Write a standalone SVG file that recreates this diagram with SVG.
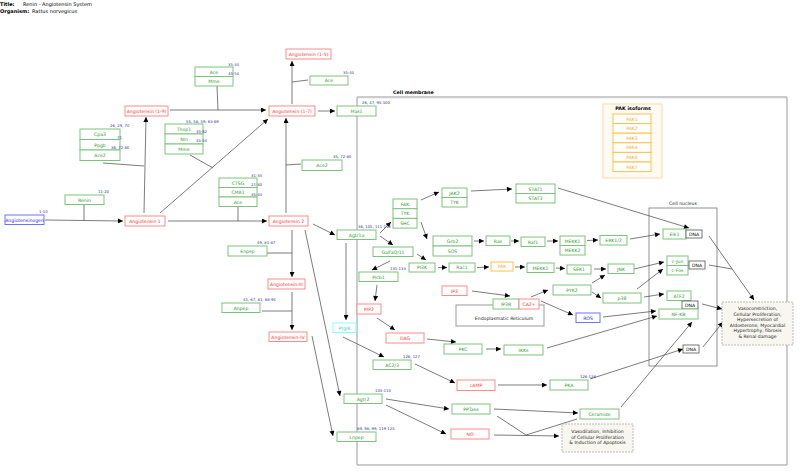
<svg xmlns="http://www.w3.org/2000/svg" width="800" height="472" viewBox="0 0 800 472">
<defs>
<marker id="ah" viewBox="0 0 10 10" refX="10" refY="5" markerWidth="7" markerHeight="5" orient="auto" markerUnits="userSpaceOnUse"><path d="M0,0 L10,5 L0,10 z" fill="#000"/></marker>
<style>
text{font-family:"DejaVu Sans","Liberation Sans",sans-serif;font-size:4.6px;text-anchor:middle}
.g rect{fill:#fff;stroke:#7cc47c;stroke-width:1}
.g text{fill:#2e9a2e}
.r rect{fill:#fff;stroke:#ff8a8a;stroke-width:1}
.r text{fill:#ff3030}
.b rect{fill:#fff;stroke:#7070ff;stroke-width:1}
.b text{fill:#2020ff}
.o rect{fill:#fff;stroke:#ffc04d;stroke-width:1}
.o text{fill:#ffaa33}
.c rect{fill:#fff;stroke:#88ffff;stroke-width:1}
.c text{fill:#33ccdd}
.k rect{fill:#fff;stroke:#555;stroke-width:0.8}
.k text{fill:#000}
.lbl{fill:#333399;font-size:3.8px;text-anchor:start}
.note rect{fill:#f7f7f0;stroke:#aaa;stroke-width:0.8;stroke-dasharray:2,1}
.note text{fill:#222;font-size:4.6px}
.hd{font-weight:bold;fill:#000;text-anchor:start;font-size:5px}
#edges line,#edges path{stroke:#444;stroke-width:0.7;fill:none}
#edges .a{marker-end:url(#ah)}
</style>
</defs>
<rect width="800" height="472" fill="#fff"/>
<g id="title">
<text class="hd" x="0" y="6">Title:</text><text x="23" y="6" style="text-anchor:start;font-size:5px">Renin - Angiotensin System</text>
<text class="hd" x="0" y="13">Organism:</text><text x="32" y="13" style="text-anchor:start;font-size:5px">Rattus norvegicus</text>
</g>
<g id="compartments">
<path d="M357,97 H787 V465 H357 Z" fill="none" stroke="#999" stroke-width="1"/>
<line x1="357" y1="97.5" x2="787" y2="97.5" stroke="#ccc" stroke-width="1.5"/>
<text class="hd" x="393" y="94" style="font-size:4.8px">Cell membrane</text>
<rect x="456" y="305" width="88" height="21" fill="#fff" stroke="#999" stroke-width="1"/>
<text x="504" y="320" fill="#222">Endoplasmatic Reticulum</text>
<rect x="649" y="208" width="68" height="158" fill="none" stroke="#777" stroke-width="0.8"/>
<text x="683" y="205" fill="#222">Cell nucleus</text>
<g id="pak-isoforms">
<rect x="603" y="104" width="59" height="74" fill="#fffaf2" stroke="#ffd9a0" stroke-width="1"/>
<text x="633" y="109.5" style="font-weight:bold;font-size:4.8px">PAK isoforms</text>
<g class="o">
<rect x="613" y="114" width="38" height="9.6"/><text x="632" y="120.6">PAK1</text>
<rect x="613" y="123.6" width="38" height="9.6"/><text x="632" y="130.2">PAK2</text>
<rect x="613" y="133.2" width="38" height="9.6"/><text x="632" y="139.8">PAK3</text>
<rect x="613" y="142.8" width="38" height="9.6"/><text x="632" y="149.4">PAK4</text>
<rect x="613" y="152.4" width="38" height="9.6"/><text x="632" y="159">PAK6</text>
<rect x="613" y="162" width="38" height="9.6"/><text x="632" y="168.6">PAK7</text>
</g>
</g>
</g>
<g id="edges">
<line class="a" x1="45" y1="220" x2="123" y2="221"/>
<line x1="84" y1="205" x2="84" y2="220.5"/>
<line class="a" x1="144" y1="213" x2="146" y2="117"/>
<line x1="103" y1="163" x2="144" y2="166"/>
<line class="a" x1="160" y1="213" x2="268" y2="119"/>
<line x1="190" y1="155" x2="213" y2="168"/>
<line class="a" x1="168" y1="221" x2="267" y2="221"/>
<line x1="238" y1="207" x2="238" y2="221"/>
<line class="a" x1="170" y1="110" x2="266" y2="110"/>
<line x1="217" y1="86" x2="218" y2="110"/>
<line class="a" x1="286" y1="213" x2="286" y2="118"/>
<line x1="286" y1="165" x2="301" y2="164"/>
<line class="a" x1="292" y1="104" x2="292" y2="61"/>
<line x1="292" y1="82" x2="308" y2="80"/>
<line class="a" x1="318" y1="111" x2="335" y2="111"/>
<line class="a" x1="313" y1="224" x2="335" y2="235"/>
<line class="a" x1="292" y1="230" x2="292" y2="277"/>
<line x1="267" y1="253" x2="292" y2="253"/>
<line class="a" x1="292" y1="292" x2="292" y2="330"/>
<line x1="262" y1="311" x2="292" y2="311"/>
<line class="a" x1="305" y1="230" x2="340" y2="396"/>
<line class="a" x1="312" y1="336" x2="333" y2="436"/>
<line class="a" x1="346" y1="243" x2="346" y2="320"/>
<line class="a" x1="380" y1="233" x2="391" y2="222"/>
<line class="a" x1="380" y1="236" x2="393" y2="245"/>
<line class="a" x1="390" y1="261" x2="372" y2="270"/>
<line class="a" x1="377" y1="285" x2="375" y2="301"/>
<line class="a" x1="421" y1="200" x2="439" y2="192"/>
<line class="a" x1="421" y1="222" x2="427" y2="239"/>
<line class="a" x1="471" y1="191" x2="512" y2="189"/>
<line class="a" x1="558" y1="188" x2="689" y2="228"/>
<line class="a" x1="474" y1="241" x2="484" y2="241"/>
<line class="a" x1="511" y1="241" x2="519" y2="241"/>
<line class="a" x1="547" y1="241" x2="558" y2="241"/>
<line class="a" x1="587" y1="240.5" x2="598" y2="240"/>
<line class="a" x1="630" y1="239" x2="660" y2="234"/>
<line class="a" x1="417" y1="254" x2="426" y2="260"/>
<line class="a" x1="438" y1="267.5" x2="447" y2="267.5"/>
<line class="a" x1="477" y1="267.5" x2="489" y2="267"/>
<line class="a" x1="515" y1="267" x2="525" y2="267"/>
<line class="a" x1="556" y1="268" x2="565" y2="268.5"/>
<line class="a" x1="594" y1="269" x2="606" y2="269"/>
<line class="a" x1="634" y1="269" x2="664" y2="262"/>
<line class="a" x1="637" y1="289" x2="663" y2="269"/>
<line class="a" x1="644" y1="297" x2="664" y2="294"/>
<line class="a" x1="592" y1="283" x2="605" y2="275"/>
<line class="a" x1="592" y1="292" x2="601" y2="298"/>
<line class="a" x1="472" y1="291" x2="510" y2="296"/>
<line class="a" x1="531" y1="297" x2="548" y2="290"/>
<line class="a" x1="541" y1="301" x2="573" y2="315"/>
<line class="a" x1="603" y1="317" x2="656" y2="311"/>
<line class="a" x1="547" y1="348" x2="657" y2="316"/>
<line class="a" x1="590" y1="379" x2="683" y2="349"/>
<line class="a" x1="621" y1="407" x2="692" y2="322"/>
<line class="a" x1="703" y1="347" x2="723" y2="322"/>
<line class="a" x1="709" y1="236" x2="754" y2="300"/>
<line x1="709" y1="265" x2="732" y2="269"/>
<line class="a" x1="702" y1="304" x2="722" y2="309"/>
<line class="a" x1="427" y1="339" x2="456" y2="342"/>
<line class="a" x1="377" y1="318" x2="395" y2="330"/>
<line class="a" x1="486" y1="349" x2="501" y2="349"/>
<line class="a" x1="343" y1="337" x2="384" y2="357"/>
<line class="a" x1="415" y1="364" x2="455" y2="383"/>
<line class="a" x1="498" y1="385" x2="547" y2="385"/>
<line class="a" x1="386" y1="399" x2="449" y2="409"/>
<line class="a" x1="386" y1="405" x2="446" y2="434"/>
<line class="a" x1="494" y1="409" x2="578" y2="413"/>
<line x1="497" y1="416" x2="526" y2="435"/>
<line x1="577" y1="419" x2="526" y2="435"/>
<line class="a" x1="494" y1="435" x2="559" y2="436"/>
</g>
<g id="n-acemme" class="g"><rect x="195" y="67" width="38" height="9.5"/><text x="214" y="73.5">Ace</text><rect x="195" y="76.5" width="38" height="9.5"/><text x="214" y="83">Mme</text></g>
<text class="lbl" x="228" y="65.5">35-44</text><text class="lbl" x="228" y="75">45-54</text>
<g id="n-ang15" class="r"><rect x="286" y="49" width="45" height="10"/><text x="308.5" y="55.8">Angiotensin (1-5)</text></g>
<g id="n-ace-b" class="g"><rect x="310" y="76" width="38" height="9"/><text x="329" y="82.3">Ace</text></g>
<text class="lbl" x="343" y="74">35-44</text>
<g id="n-ang19" class="r"><rect x="125" y="106" width="43" height="10"/><text x="146.5" y="112.8">Angiotensin (1-9)</text></g>
<g id="n-ang17" class="r"><rect x="269" y="106" width="46" height="10"/><text x="292" y="112.8">Angiotensin (1-7)</text></g>
<g id="n-mas1" class="g"><rect x="337" y="106" width="39" height="10"/><text x="356.5" y="112.8">Mas1</text></g>
<text class="lbl" x="362" y="104">26, 47, 95-100</text>
<g id="n-cpa3" class="g"><rect x="80" y="129" width="40" height="10.5"/><text x="100" y="136">Cpa3</text><rect x="80" y="139.5" width="40" height="10.5"/><text x="100" y="146.5">Ppgb</text><rect x="80" y="150" width="40" height="10.5"/><text x="100" y="157">Ace2</text></g>
<text class="lbl" x="110" y="127">26, 29, 70</text><text class="lbl" x="117" y="138.5">71</text><text class="lbl" x="111" y="149">36, 72-80</text>
<g id="n-thop1" class="g"><rect x="165" y="124" width="38" height="10"/><text x="184" y="130.8">Thop1</text><rect x="165" y="134" width="38" height="10"/><text x="184" y="140.8">Nln</text><rect x="165" y="144" width="38" height="10"/><text x="184" y="150.8">Mme</text></g>
<text class="lbl" x="186" y="122.5">55, 58, 59, 63-69</text><text class="lbl" x="196" y="132.5">35-62</text><text class="lbl" x="196" y="142">45-54</text>
<g id="n-renin" class="g"><rect x="65" y="195" width="39" height="9.5"/><text x="84.5" y="201.5">Renin</text></g>
<text class="lbl" x="98" y="193">11-20</text>
<g id="n-agt" class="b"><rect x="5" y="215" width="39" height="9.5"/><text x="24.5" y="221.5">Angiotensinogen</text></g>
<text class="lbl" x="39" y="213">1-10</text>
<g id="n-ang1" class="r"><rect x="125" y="216" width="40" height="10"/><text x="145" y="222.8">Angiotensin 1</text></g>
<g id="n-ctsg" class="g"><rect x="219" y="178" width="38" height="9.5"/><text x="238" y="184.5">CTSG</text><rect x="219" y="187.5" width="38" height="9.5"/><text x="238" y="194">CMA1</text><rect x="219" y="197" width="38" height="9.5"/><text x="238" y="203.5">Ace</text></g>
<text class="lbl" x="251" y="176.5">31-33</text><text class="lbl" x="251" y="186">21-30</text><text class="lbl" x="251" y="195.5">35-44</text>
<g id="n-ace2b" class="g"><rect x="302" y="160" width="40" height="10.5"/><text x="322" y="167">Ace2</text></g>
<text class="lbl" x="333" y="158">35, 72-80</text>
<g id="n-ang2" class="r"><rect x="269" y="216" width="39" height="10"/><text x="288.5" y="222.8">Angiotensin 2</text></g>
<g id="n-enpep" class="g"><rect x="228" y="246" width="39" height="10"/><text x="247.5" y="252.8">Enpep</text></g>
<text class="lbl" x="257" y="244">49, 81-87</text>
<g id="n-ang3" class="r"><rect x="268" y="279" width="37" height="10"/><text x="286.5" y="285.8">Angiotensin-III</text></g>
<g id="n-anpep" class="g"><rect x="222" y="303" width="38" height="9.5"/><text x="241" y="309.5">Anpep</text></g>
<text class="lbl" x="243" y="300.5">45, 67, 81, 88-94</text>
<g id="n-ang4" class="r"><rect x="269" y="332" width="38" height="9.5"/><text x="288" y="338.5">Angiotensin-IV</text></g>
<g id="n-agtr1a" class="g"><rect x="337" y="230" width="39" height="9.5"/><text x="356.5" y="236.5">Agtr1a</text></g>
<text class="lbl" x="358" y="227.5">36, 105, 111-118</text>
<g id="n-fak" class="g"><rect x="393" y="199" width="24" height="9.7"/><text x="405" y="205.6">FAK</text><rect x="393" y="208.7" width="24" height="9.7"/><text x="405" y="215.3">TYK</text><rect x="393" y="218.4" width="24" height="9.7"/><text x="405" y="225">SHC</text></g>
<g id="n-galfaq" class="g"><rect x="373" y="247" width="40" height="9.5"/><text x="393" y="253.5">GalfaQ/11</text></g>
<g id="n-plcb1" class="g"><rect x="359" y="272" width="39" height="9.5"/><text x="378.5" y="278.5">Plcb1</text></g>
<text class="lbl" x="390" y="269.5">131-133</text>
<g id="n-pip2" class="r"><rect x="357" y="304" width="24" height="10"/><text x="369" y="310.8">PIP2</text></g>
<g id="n-ptgik" class="c"><rect x="333" y="323" width="23" height="9.5"/><text x="344.5" y="329.5">PtgIK</text></g>
<g id="n-dag" class="r"><rect x="386" y="333" width="38" height="10"/><text x="405" y="339.8">DAG</text></g>
<g id="n-ac23" class="g"><rect x="373" y="360" width="38" height="9.5"/><text x="392" y="366.5">AC2/3</text></g>
<text class="lbl" x="403" y="357.5">126, 127</text>
<g id="n-agtr2" class="g"><rect x="344" y="394" width="38" height="9.5"/><text x="363" y="400.5">Agtr2</text></g>
<text class="lbl" x="375" y="391.5">103-110</text>
<g id="n-lnpep" class="g"><rect x="337" y="432" width="39" height="9.5"/><text x="356.5" y="438.5">Lnpep</text></g>
<text class="lbl" x="357" y="429.5">89, 98, 99, 119-125</text>
<g id="n-jak2" class="g"><rect x="442" y="188" width="25" height="9.5"/><text x="454.5" y="194.5">JAK2</text><rect x="442" y="197.5" width="25" height="9.5"/><text x="454.5" y="204">TYK</text></g>
<g id="n-stat" class="g"><rect x="516" y="184" width="39" height="9.5"/><text x="535.5" y="190.5">STAT1</text><rect x="516" y="193.5" width="39" height="9.5"/><text x="535.5" y="200">STAT3</text></g>
<g id="n-grb2" class="g"><rect x="433" y="236" width="39" height="10"/><text x="452.5" y="242.8">Grb2</text><rect x="433" y="246" width="39" height="10"/><text x="452.5" y="252.8">SOS</text></g>
<g id="n-ras" class="g"><rect x="486" y="236" width="24" height="9.5"/><text x="498" y="242.5">Ras</text></g>
<g id="n-raf1" class="g"><rect x="521" y="237" width="24" height="9.5"/><text x="533" y="243.5">Raf1</text></g>
<g id="n-mekk" class="g"><rect x="560" y="236" width="25" height="9.5"/><text x="572.5" y="242.5">MEKK1</text><rect x="560" y="245.5" width="25" height="9.5"/><text x="572.5" y="252">MEKK2</text></g>
<g id="n-erk" class="g"><rect x="600" y="235.5" width="27" height="9.5"/><text x="613.5" y="242">ERK1/2</text></g>
<g id="n-pi3k" class="g"><rect x="409" y="263" width="26" height="9"/><text x="422" y="269.2">PI3K</text></g>
<g id="n-rac1" class="g"><rect x="449" y="263" width="26" height="9"/><text x="462" y="269.2">Rac1</text></g>
<g id="n-pak" class="o"><rect x="491" y="262" width="22" height="9"/><text x="502" y="268.2">PAK</text></g>
<g id="n-mekk1b" class="g"><rect x="527" y="263" width="27" height="9.5"/><text x="540.5" y="269.5">MEKK1</text></g>
<g id="n-sek1" class="g"><rect x="567" y="265" width="24" height="9"/><text x="579" y="271.2">SEK1</text></g>
<g id="n-jnk" class="g"><rect x="608" y="264" width="26" height="9.5"/><text x="621" y="270.5">JNK</text></g>
<g id="n-ip3" class="r"><rect x="442" y="286" width="25" height="9.5"/><text x="454.5" y="292.5">IP3</text></g>
<g id="n-ip3r" class="g"><rect x="493" y="299" width="26" height="10"/><text x="506" y="305.8">IP3R</text></g>
<g id="n-ca2" class="r"><rect x="519" y="299" width="20" height="10"/><text x="529" y="305.8">CA2+</text></g>
<g id="n-pyk2" class="g"><rect x="553" y="285" width="38" height="10"/><text x="572" y="291.8">PYK2</text></g>
<g id="n-p38" class="g"><rect x="603" y="293" width="38" height="10"/><text x="622" y="299.8">p38</text></g>
<g id="n-ros" class="b"><rect x="576" y="313" width="24" height="9.5"/><text x="588" y="319.5">ROS</text></g>
<g id="n-pkc" class="g"><rect x="444" y="344" width="38" height="10"/><text x="463" y="350.8">PKC</text></g>
<g id="n-ikks" class="g"><rect x="504" y="345" width="39" height="10"/><text x="523.5" y="351.8">IKKs</text></g>
<g id="n-camp" class="r"><rect x="457" y="380" width="38" height="10.5"/><text x="476" y="387">cAMP</text></g>
<g id="n-pka" class="g"><rect x="550" y="380" width="38" height="10"/><text x="569" y="386.8">PKA</text></g>
<text class="lbl" x="580" y="378">126-128</text>
<g id="n-pptase" class="g"><rect x="452" y="404" width="38" height="10"/><text x="471" y="410.8">PPTase</text></g>
<g id="n-no" class="r"><rect x="451" y="429" width="38" height="10"/><text x="470" y="435.8">NO</text></g>
<g id="n-ceramide" class="g"><rect x="580" y="409" width="39" height="10"/><text x="599.5" y="415.8">Ceramide</text></g>
<g id="n-vasodil" class="note"><rect x="562" y="424" width="71" height="28"/><text x="597.5" y="433">Vasodilation, Inhibition</text><text x="597.5" y="438.5">of Cellular Proliferation</text><text x="597.5" y="444">&amp; Induction of Apoptosis</text></g>
<g id="n-elk1" class="g"><rect x="663" y="229" width="23" height="10"/><text x="674.5" y="235.8">Elk1</text></g>
<g id="n-dna1" class="k"><rect x="686" y="230" width="16" height="8"/><text x="694" y="235.7">DNA</text></g>
<g id="n-cjun" class="g"><rect x="667" y="256" width="21" height="9.5"/><text x="677.5" y="262.5">c-Jun</text><rect x="667" y="265.5" width="21" height="9.5"/><text x="677.5" y="272">c-Fos</text></g>
<g id="n-dna2" class="k"><rect x="689" y="261" width="16" height="8"/><text x="697" y="266.7">DNA</text></g>
<g id="n-atf2" class="g"><rect x="667" y="291" width="24" height="9.5"/><text x="679" y="297.5">ATF2</text></g>
<g id="n-dna3" class="k"><rect x="682" y="301" width="16" height="8"/><text x="690" y="306.7">DNA</text></g>
<g id="n-nfkb" class="g"><rect x="659" y="309" width="39" height="10"/><text x="678.5" y="315.8">NF-KB</text></g>
<g id="n-dna4" class="k"><rect x="683" y="345" width="16" height="8"/><text x="691" y="350.7">DNA</text></g>
<g id="n-vasocon" class="note"><rect x="722" y="302" width="71" height="43"/><text x="757.5" y="310">Vasoconstriction,</text><text x="757.5" y="315.5">Cellular Proliferation,</text><text x="757.5" y="321">Hypersecretion of</text><text x="757.5" y="326.5">Aldosterone, Myocardial</text><text x="757.5" y="332">Hypertrophy, fibrosis</text><text x="757.5" y="337.5">&amp; Renal damage</text></g>
</svg>
